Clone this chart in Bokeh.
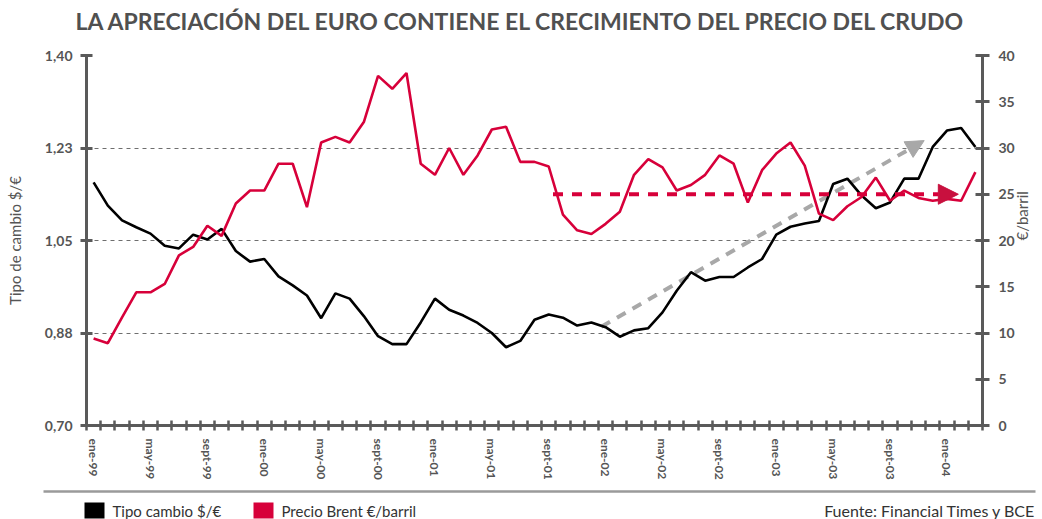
import math
from bokeh.plotting import figure
from bokeh.models import (Range1d, LinearAxis, FixedTicker, Arrow, NormalHead)
from bokeh.layouts import column
from bokeh.embed import file_html
from bokeh.resources import INLINE
from bokeh.core.properties import value

# ---------------- data ----------------
months = ["ene-99", "feb-99", "mar-99", "abr-99", "may-99", "jun-99", "jul-99", "ago-99", "sept-99", "oct-99", "nov-99", "dic-99",
          "ene-00", "feb-00", "mar-00", "abr-00", "may-00", "jun-00", "jul-00", "ago-00", "sept-00", "oct-00", "nov-00", "dic-00",
          "ene-01", "feb-01", "mar-01", "abr-01", "may-01", "jun-01", "jul-01", "ago-01", "sept-01", "oct-01", "nov-01", "dic-01",
          "ene-02", "feb-02", "mar-02", "abr-02", "may-02", "jun-02", "jul-02", "ago-02", "sept-02", "oct-02", "nov-02", "dic-02",
          "ene-03", "feb-03", "mar-03", "abr-03", "may-03", "jun-03", "jul-03", "ago-03", "sept-03", "oct-03", "nov-03", "dic-03",
          "ene-04", "feb-04", "mar-04"]

tipo_cambio = [1.160, 1.116, 1.088, 1.075, 1.063, 1.040, 1.035, 1.061, 1.052, 1.072, 1.030, 1.010, 1.015, 0.982, 0.965, 0.946,
               0.903, 0.950, 0.940, 0.907, 0.869, 0.854, 0.854, 0.895, 0.940, 0.919, 0.908, 0.894, 0.875, 0.848, 0.860, 0.900,
               0.910, 0.904, 0.889, 0.895, 0.886, 0.868, 0.880, 0.884, 0.914, 0.955, 0.990, 0.974, 0.981, 0.981, 0.999, 1.015,
               1.061, 1.076, 1.082, 1.087, 1.157, 1.167, 1.135, 1.111, 1.122, 1.167, 1.167, 1.227, 1.258, 1.263, 1.227]

brent = [9.4, 8.9, 11.7, 14.4, 14.4, 15.3, 18.4, 19.3, 21.6, 20.5, 24.0, 25.4, 25.4, 28.3, 28.3, 23.6,
         30.6, 31.2, 30.6, 32.8, 37.8, 36.4, 38.1, 28.3, 27.1, 30.0, 27.1, 29.2, 32.0, 32.3, 28.5, 28.5,
         28.0, 22.8, 21.1, 20.7, 21.8, 23.1, 27.1, 28.8, 27.9, 25.4, 26.0, 27.1, 29.2, 28.3, 24.1, 27.6,
         29.4, 30.6, 28.1, 22.9, 22.2, 23.7, 24.7, 26.8, 24.3, 25.4, 24.6, 24.3, 24.5, 24.3, 27.4]

left_ticks = [0.70, 0.875, 1.05, 1.225, 1.40]
left_tick_labels = ["0,70", "0,88", "1,05", "1,23", "1,40"]
right_ticks = [0, 5, 10, 15, 20, 25, 30, 35, 40]
label_every = 4

# trend arrows (x in month index, y in axis units)
usd_arrow = dict(x0=35.7, y0=0.887, x1=58.4, y1=1.239)   # left axis
brent_arrow = dict(x0=32.3, x1=60.8, y=25.0)              # right axis

title_text = "LA APRECIACIÓN DEL EURO CONTIENE EL CRECIMIENTO DEL PRECIO DEL CRUDO"
left_label = "Tipo de cambio $/€"
right_label = "€/barril"
legend_labels = ["Tipo cambio $/€", "Precio Brent €/barril"]
source_text = "Fuente: Financial Times y BCE"

# ---------------- styles ----------------
RED = "#d7003a"
RED_HEAD = "#c8103e"
GREY_ARROW = "#a8a8a8"
AXIS_GREY = "#5a5a5a"
TEXT_GREY = "#555555"
FONT = "Lato"
W = 1042
HEAD_H, MAIN_H, FOOT_H = 40, 447, 32
FL, FR, FT, FB = 86, 985, 15, 385   # frame edges in the main figure's px

idx = list(range(len(months)))

def blank_strip(height):
    s = figure(width=W, height=height, output_backend="svg", toolbar_location=None,
               x_range=Range1d(0, W), y_range=Range1d(height, 0),
               min_border=0, x_axis_location=None, y_axis_location=None, title=None)
    s.outline_line_color = None
    s.xgrid.visible = False
    s.ygrid.visible = False
    s.background_fill_color = "white"
    s.border_fill_color = "white"
    return s

# ---------------- header ----------------
hd = blank_strip(HEAD_H)
hd.text(x=[521], y=[20], text=[title_text], text_font=value(FONT), text_font_size="23px",
        text_font_style="bold", text_color="#505050", text_align="center", text_baseline="middle")

# ---------------- main chart ----------------
p = figure(width=W, height=MAIN_H, output_backend="svg", toolbar_location=None,
           x_range=Range1d(-0.5, len(months) - 0.5), y_range=Range1d(0.70, 1.40),
           min_border_left=FL, min_border_right=W - FR, min_border_top=FT, min_border_bottom=MAIN_H - FB,
           x_axis_location=None, y_axis_location=None, title=None)
p.extra_y_ranges = {"brent": Range1d(0, 40)}
p.outline_line_color = None
p.background_fill_color = "white"
p.border_fill_color = "white"

# grid
p.xgrid.visible = False
p.ygrid.ticker = FixedTicker(ticks=left_ticks[1:])
p.ygrid.grid_line_color = "#6e6e6e"
p.ygrid.grid_line_dash = "4 4"
p.ygrid.grid_line_width = 1

def style_axis(ax, size="14px"):
    ax.axis_line_color = AXIS_GREY
    ax.axis_line_width = 3
    ax.major_tick_line_color = AXIS_GREY
    ax.major_tick_line_width = 3
    ax.minor_tick_line_color = None
    ax.major_label_text_font = FONT
    ax.major_label_text_font_size = size
    ax.major_label_text_font_style = "bold"
    ax.major_label_text_color = TEXT_GREY
    ax.axis_label_text_font = FONT
    ax.axis_label_text_font_size = "15px"
    ax.axis_label_text_font_style = "normal"
    ax.axis_label_text_color = TEXT_GREY

# left axis
ax_l = LinearAxis(ticker=FixedTicker(ticks=left_ticks),
                  major_label_overrides={t: s for t, s in zip(left_ticks, left_tick_labels)},
                  axis_label=left_label)
style_axis(ax_l)
ax_l.major_tick_in = 6
ax_l.major_tick_out = 6
ax_l.major_label_standoff = 8
ax_l.axis_label_standoff = 18
p.add_layout(ax_l, "left")

# right axis
ax_r = LinearAxis(y_range_name="brent", ticker=FixedTicker(ticks=right_ticks), axis_label=right_label)
style_axis(ax_r)
ax_r.major_tick_in = 7
ax_r.major_tick_out = 7
ax_r.major_label_standoff = 9
ax_r.axis_label_standoff = 4
try:
    ax_r.axis_label_orientation = math.pi / 2
except Exception:
    pass
p.add_layout(ax_r, "right")

# bottom axis
lab_ticks = idx[::label_every]
ax_b = LinearAxis(ticker=FixedTicker(ticks=lab_ticks, minor_ticks=[i - 0.5 for i in idx] + [idx[-1] + 0.5]),
                  major_label_overrides={t: months[t] for t in lab_ticks})
style_axis(ax_b, size="12px")
ax_b.major_tick_in = 0
ax_b.major_tick_out = 0
ax_b.minor_tick_line_color = AXIS_GREY
ax_b.minor_tick_line_width = 2.5
ax_b.minor_tick_in = 5
ax_b.minor_tick_out = 5
ax_b.major_label_orientation = "vertical"
ax_b.major_label_standoff = 8
p.add_layout(ax_b, "below")

# grey trend arrow (under lines)
ga = Arrow(end=NormalHead(size=18, fill_color=GREY_ARROW, line_color=GREY_ARROW, line_width=1),
           x_start=usd_arrow["x0"], y_start=usd_arrow["y0"], x_end=usd_arrow["x1"], y_end=usd_arrow["y1"],
           line_color=GREY_ARROW, line_width=4, line_dash="10 8", level="underlay")
p.add_layout(ga)

# series
p.line(idx, tipo_cambio, line_color="black", line_width=2.6)
p.line(idx, brent, y_range_name="brent", line_color=RED, line_width=2.6)

# red level arrow
ra = Arrow(end=NormalHead(size=20, fill_color=RED_HEAD, line_color=RED_HEAD, line_width=1),
           x_start=brent_arrow["x0"], y_start=brent_arrow["y"], x_end=brent_arrow["x1"], y_end=brent_arrow["y"],
           y_range_name="brent", line_color=RED, line_width=4, line_dash="10 9")
p.add_layout(ra)

# ---------------- footer ----------------
f = blank_strip(FOOT_H)
f.segment(x0=[43], y0=[4], x1=[1035], y1=[4], line_color="#9a9a9a", line_width=2.5)
f.rect(x=[94, 263], y=[23, 23], width=[20, 20], height=[16, 16], fill_color=["black", RED], line_color=None)
f.text(x=[112, 281], y=[23, 23], text=legend_labels, text_font=value(FONT),
       text_font_size="15px", text_color="#333333", text_baseline="middle", text_align="left")
f.text(x=[1035], y=[23], text=[source_text], text_font=value(FONT),
       text_font_size="16px", text_color="#333333", text_baseline="middle", text_align="right")

for fig in (hd, p, f):
    if "frame_align" in fig.properties():
        fig.frame_align = False

layout = column(hd, p, f, spacing=0)
open("out.html", "w").write(file_html(layout, INLINE))
